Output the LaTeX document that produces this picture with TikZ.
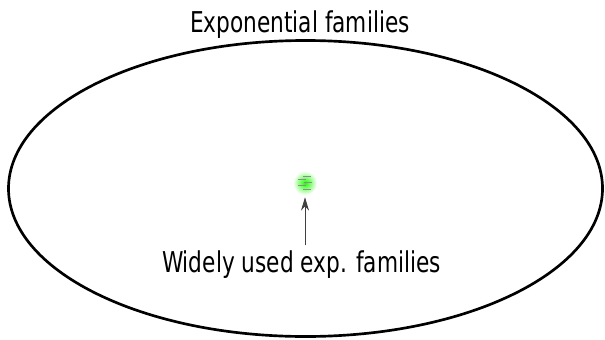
\documentclass[tikz,border=0pt]{standalone}
\usepackage{fontspec}
\setmainfont{DejaVu Sans Condensed}
\usetikzlibrary{arrows.meta, positioning}
\newcommand{\narrow}[1]{\scalebox{0.84}[1]{#1}}

\begin{document}
\begin{tikzpicture}[x=0.75pt, y=-0.75pt,
  lbl/.style={font=\fontsize{21.5}{24}\selectfont, inner sep=0pt, anchor=base},
  arr/.style={-{Stealth[length=10pt, width=6pt]}, semithick, black!75}
]
  \useasboundingbox (0,0) rectangle (605,339);
  %% outer set
  \draw[line width=2pt] (305.5,188.5) ellipse [x radius=297, y radius=148];
  \node[lbl] (title) at (300,32.5) {\narrow{Exponential families}};
  %% widely used ones
  \shade[inner color=green!85!lime, outer color=white] (305,183) circle [radius=12];
  \node[minimum size=21pt, inner sep=0pt] (blob) at (305,183) {};
  \foreach \x/\dy in {2/-7, -3/-4, 3/-1, -3/2, 2/6}{
    \draw[black!45, line width=0.12pt] (305+\x-4,183+\dy) -- (305+\x+4,183+\dy);
  }
  \node[lbl] (used) at (301.5,272) {\narrow{Widely used exp. families}};
  \draw[arr, shorten <=3.5pt] (blob.south |- used.north) -- (blob.south);
\end{tikzpicture}
\end{document}
